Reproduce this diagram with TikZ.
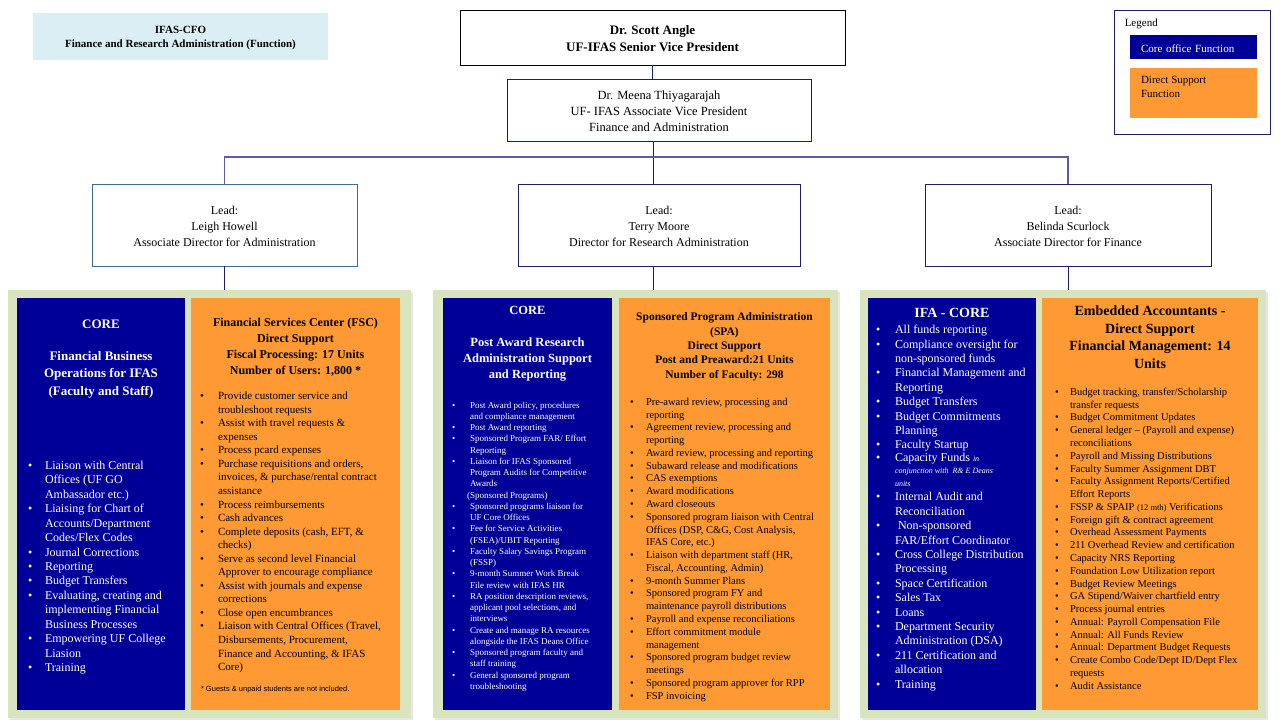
\documentclass[tikz,border=0pt]{standalone}
\usepackage{fontspec}
\setmainfont{Liberation Serif}
\newfontfamily\notefont{Liberation Sans}
\usepackage{enumitem}
\usetikzlibrary{positioning,shadows}

\definecolor{corenavy}{HTML}{000099}
\definecolor{suporange}{HTML}{FF9933}
\definecolor{panelgreen}{HTML}{D7E4BD}
\definecolor{cfoblue}{HTML}{DBEEF4}
\definecolor{linknavy}{HTML}{1F1F6E}
\definecolor{barviolet}{HTML}{5A5AAE}
\definecolor{leadsteel}{HTML}{3B6C9C}

% bullet list with the bullet flush left
\newenvironment{dutylist}[2]{%
  \begin{minipage}[t]{#1}\raggedright
  \begin{itemize}[label=\textbullet, align=left, leftmargin=#2, labelwidth=#2,
    labelindent=0pt, labelsep=0pt, itemsep=0pt, parsep=0pt, topsep=0pt, partopsep=0pt]}%
  {\end{itemize}\end{minipage}}
\newcommand{\fsz}[2]{\fontsize{#1}{#2}\selectfont}
\newcommand{\tpad}[1]{\rule{0pt}{#1em}}

\tikzset{
  headbox/.style={draw, line width=0.9pt, align=center, inner sep=0pt},
  leadbox/.style={draw=linknavy, line width=0.9pt, align=center, inner sep=0pt,
    minimum height=82pt, font=\fsz{12}{16}},
  panel/.style={fill=panelgreen, minimum height=428pt,
    drop shadow={shadow xshift=1.5pt, shadow yshift=-1.5pt, opacity=0.2}},
  corebox/.style={fill=corenavy, minimum height=412pt, text=white},
  supbox/.style={fill=suporange, minimum height=412pt},
  boxtext/.style={inner sep=0pt, align=center},
  link/.style={draw=linknavy, line width=0.9pt},
  barlink/.style={draw=barviolet, line width=1.2pt}
}

\begin{document}
\begin{tikzpicture}[x=1pt,y=-1pt]
  \useasboundingbox (0,0) rectangle (1280,720);

  % top of the chart
  \node[fill=cfoblue, align=center, minimum width=295pt, minimum height=47pt,
    font=\bfseries\fsz{11}{14}] (cfo) at (180.5,36.5)
    {\tpad{1}IFAS-CFO\\Finance and Research Administration (Function)};
  \node[headbox, minimum width=385pt, minimum height=55pt, font=\bfseries\fsz{13}{17}]
    (svp) at (652.5,37.5) {\tpad{0.85}Dr. Scott Angle\\UF-IFAS Senior Vice President};
  \node[headbox, draw=linknavy, minimum width=304pt, minimum height=62pt,
    font=\fsz{12.5}{16}] (avp) at (659,110)
    {\tpad{0.85}Dr. Meena Thiyagarajah\\UF- IFAS Associate Vice President\\Finance and Administration};

  % legend
  \node[draw=linknavy, line width=0.9pt, minimum width=156pt, minimum height=124pt]
    (legend) at (1192,72) {};
  \node[inner sep=0pt, font=\fsz{11}{13}, below right=9.6pt and 11pt of legend.north west]
    (legtitle) {Legend};
  \node[fill=corenavy, text=white, minimum width=127pt, minimum height=24pt,
    text width=105pt, inner xsep=11pt, font=\fsz{11}{13}] (legcore) at (1193.5,47)
    {\tpad{0.95}Core office Function};
  \node[fill=suporange, minimum width=127pt, minimum height=50pt] (legsup) at (1193.5,93) {};
  \node[inner sep=0pt, align=left, font=\fsz{11}{14}, below right=8.6pt and 11pt of legsup.north west]
    (legsuptext) {Direct Support\\Function};

  % leads
  \node[leadbox, draw=leadsteel, minimum width=265pt] (lead1) at (224.5,225)
    {\tpad{1}Lead:\\Leigh Howell\\Associate Director for Administration};
  \node[leadbox, minimum width=282pt] (lead2) at (659,225)
    {\tpad{1}Lead:\\Terry Moore\\Director for Research Administration};
  \node[leadbox, minimum width=286pt] (lead3) at (1068,225)
    {\tpad{1}Lead:\\Belinda Scurlock\\Associate Director for Finance};

  % green panels and their boxes
  \node[panel, minimum width=403pt] (panel1) at (209.5,504) {};
  \node[panel, minimum width=405pt] (panel2) at (635.5,504) {};
  \node[panel, minimum width=406pt] (panel3) at (1063,504) {};
  \node[corebox, minimum width=168pt] (core1) at (101,504) {};
  \node[supbox, minimum width=209pt] (sup1) at (295.5,504) {};
  \node[corebox, minimum width=169pt] (core2) at (527.5,504) {};
  \node[supbox, minimum width=211pt] (sup2) at (724.5,504) {};
  \node[corebox, minimum width=168pt] (core3) at (952,504) {};
  \node[supbox, minimum width=216pt] (sup3) at (1150,504) {};

  % connectors
  \coordinate (bar) at (653,157);
  \draw[link] (svp.south) -- (svp.south |- avp.north);
  \draw[link] (avp.south -| bar) -- (bar |- lead2.north);
  \draw[barlink] (lead1.north) |- (bar) -| (lead3.north);
  \draw[link] (lead2.south -| bar) -- (bar |- panel2.north);
  \foreach \i in {1,3}
    \draw[link] (lead\i.south) -- (lead\i.south |- panel\i.north);

  % administration
  \node[boxtext, text=white, font=\bfseries\fsz{13}{17.5}, below=22pt of core1.north]
    (core1title) {CORE\\[14pt]Financial Business\\Operations for IFAS\\(Faculty and Staff)};
  \node[inner sep=0pt, text=white, font=\fsz{12}{14.45}, below right=163pt and 11pt of core1.north west]
    (core1list) {\begin{dutylist}{154pt}{17pt}
      \item Liaison with Central\newline Offices (UF GO\newline Ambassador etc.)
      \item Liaising for Chart of\newline Accounts/Department\newline Codes/Flex Codes
      \item Journal Corrections
      \item Reporting
      \item Budget Transfers
      \item Evaluating, creating and\newline implementing Financial\newline Business Processes
      \item Empowering UF College\newline Liasion
      \item Training
    \end{dutylist}};
  \node[boxtext, font=\bfseries\fsz{12}{16}, below=20pt of sup1.north] (sup1title)
    {Financial Services Center (FSC)\\Direct Support\\Fiscal Processing: 17 Units\\Number of Users: 1,800 *};
  \node[inner sep=0pt, font=\fsz{11}{13.55}, below right=94pt and 9pt of sup1.north west]
    (sup1list) {\begin{dutylist}{196pt}{18pt}
      \item Provide customer service and\newline troubleshoot requests
      \item Assist with travel requests \&\newline expenses
      \item Process pcard expenses
      \item Purchase requisitions and orders,\newline invoices, \& purchase/rental contract\newline assistance
      \item Process reimbursements
      \item Cash advances
      \item Complete deposits (cash, EFT, \&\newline checks)
      \item Serve as second level Financial\newline Approver to encourage compliance
      \item Assist with journals and expense\newline corrections
      \item Close open encumbrances
      \item Liaison with Central Offices (Travel,\newline Disbursements, Procurement,\newline Finance and Accounting, \& IFAS\newline Core)
    \end{dutylist}};
  \node[inner sep=0pt, font=\notefont\fsz{7.5}{9}, below right=388pt and 10pt of sup1.north west]
    (sup1note) {* Guests \& unpaid students are not included.};

  % research administration
  \node[boxtext, text=white, font=\bfseries\fsz{12.5}{16}, below=8pt of core2.north]
    (core2title) {CORE\\[16pt]Post Award Research\\Administration Support\\and Reporting};
  \node[inner sep=0pt, text=white, font=\fsz{9}{11.24}, below right=104pt and 9pt of core2.north west]
    (core2list) {\begin{dutylist}{157pt}{18pt}
      \item Post Award policy, procedures\newline and compliance management
      \item Post Award reporting
      \item Sponsored Program FAR/ Effort\newline Reporting
      \item Liaison for IFAS Sponsored\newline Program Audits for Competitive\newline Awards\newline\hspace*{-3pt}(Sponsored Programs)
      \item Sponsored programs liaison for\newline UF Core Offices
      \item Fee for Service Activities\newline (FSEA)/UBIT Reporting
      \item Faculty Salary Savings Program\newline (FSSP)
      \item 9-month Summer Work Break\newline File review with IFAS HR
      \item RA position description reviews,\newline applicant pool selections, and\newline interviews
      \item Create and manage RA resources\newline alongside the IFAS Deans Office
      \item Sponsored program faculty and\newline staff training
      \item General sponsored program\newline troubleshooting
    \end{dutylist}};
  \node[boxtext, font=\bfseries\fsz{11.5}{14.3}, below=15pt of sup2.north] (sup2title)
    {Sponsored Program Administration\\(SPA)\\Direct Support\\Post and Preaward:21 Units\\Number of Faculty: 298};
  \node[inner sep=0pt, font=\fsz{10.5}{12.78}, below right=100pt and 11pt of sup2.north west]
    (sup2list) {\begin{dutylist}{197pt}{16pt}
      \item Pre-award review, processing and\newline reporting
      \item Agreement review, processing and\newline reporting
      \item Award review, processing and reporting
      \item Subaward release and modifications
      \item CAS exemptions
      \item Award modifications
      \item Award closeouts
      \item Sponsored program liaison with Central\newline Offices (DSP, C\&G, Cost Analysis,\newline IFAS Core, etc.)
      \item Liaison with department staff (HR,\newline Fiscal, Accounting, Admin)
      \item 9-month Summer Plans
      \item Sponsored program FY and\newline maintenance payroll distributions
      \item Payroll and expense reconciliations
      \item Effort commitment module\newline management
      \item Sponsored program budget review\newline meetings
      \item Sponsored program approver for RPP
      \item FSP invoicing
    \end{dutylist}};

  % finance
  \node[boxtext, text=white, font=\bfseries\fsz{14}{17}, below=10pt of core3.north]
    (core3title) {IFA - CORE};
  \node[inner sep=0pt, text=white, font=\fsz{12}{14.4}, below right=27.3pt and 8pt of core3.north west]
    (core3list) {\begin{dutylist}{158pt}{19pt}
      \item All funds reporting
      \item Compliance oversight for\newline non-sponsored funds
      \item Financial Management and\newline Reporting
      \item Budget Transfers
      \item Budget Commitments\newline Planning
      \item Faculty Startup
      \item \fsz{12}{12.5}Capacity Funds {\fsz{8}{9}\itshape in}\newline
        {\fsz{8}{9}\itshape conjunction with \ R\&\ E Deans}\newline
        {\fsz{8}{9}\itshape units}\par\fsz{12}{14.4}
      \item Internal Audit and\newline Reconciliation
      \item \ Non-sponsored\newline FAR/Effort Coordinator
      \item Cross College Distribution\newline Processing
      \item Space Certification
      \item Sales Tax
      \item Loans
      \item Department Security\newline Administration (DSA)
      \item 211 Certification and\newline allocation
      \item Training
    \end{dutylist}};
  \node[boxtext, font=\bfseries\fsz{14}{17.5}, below=8pt of sup3.north] (sup3title)
    {Embedded Accountants -\\Direct Support\\Financial Management: 14\\Units};
  \node[inner sep=0pt, font=\fsz{10.5}{12.78}, below right=90pt and 13pt of sup3.north west]
    (sup3list) {\begin{dutylist}{200pt}{15pt}
      \item Budget tracking, transfer/Scholarship\newline transfer requests
      \item Budget Commitment Updates
      \item General ledger -- (Payroll and expense)\newline reconciliations
      \item Payroll and Missing Distributions
      \item Faculty Summer Assignment DBT
      \item Faculty Assignment Reports/Certified\newline Effort Reports
      \item FSSP \& SPAIP {\fsz{8.5}{10}(12 mth)} Verifications
      \item Foreign gift \& contract agreement
      \item Overhead Assessment Payments
      \item 211 Overhead Review and certification
      \item Capacity NRS Reporting
      \item Foundation Low Utilization report
      \item Budget Review Meetings
      \item GA Stipend/Waiver chartfield entry
      \item Process journal entries
      \item Annual: Payroll Compensation File
      \item Annual: All Funds Review
      \item Annual: Department Budget Requests
      \item Create Combo Code/Dept ID/Dept Flex\newline requests
      \item Audit Assistance
    \end{dutylist}};

\end{tikzpicture}
\end{document}
